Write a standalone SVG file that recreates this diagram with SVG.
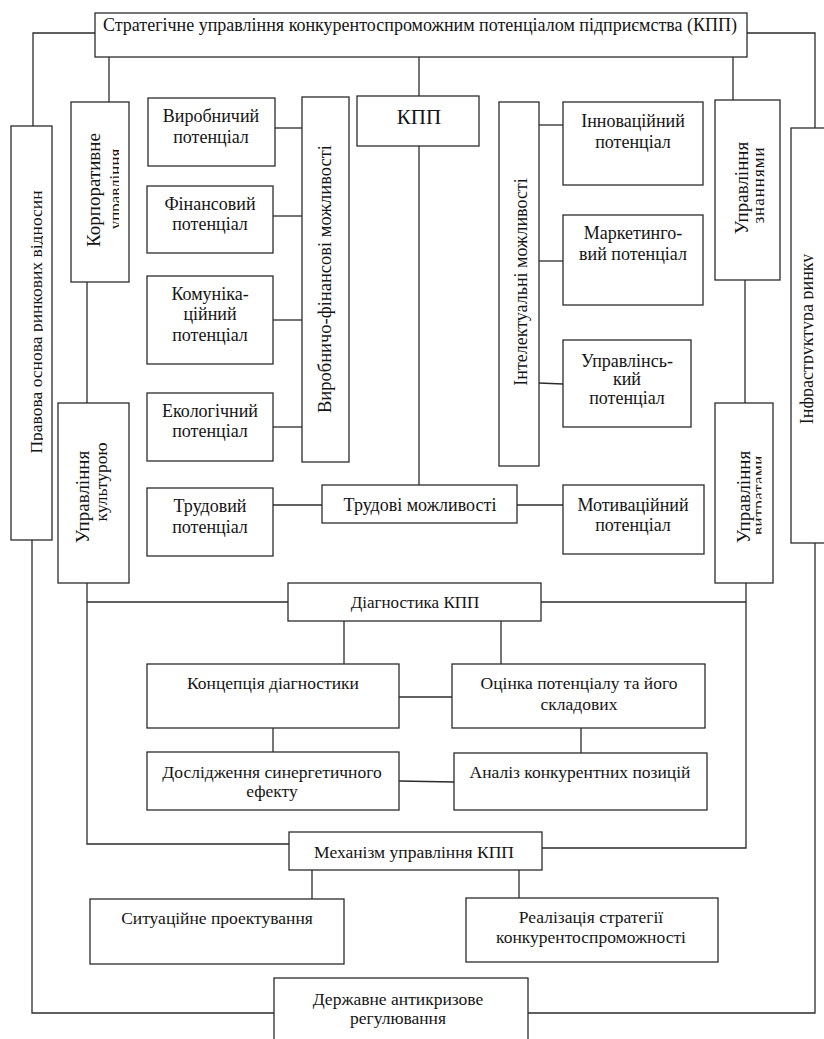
<svg xmlns="http://www.w3.org/2000/svg" width="824" height="1039" viewBox="0 0 824 1039" font-family="Liberation Serif, Times New Roman, serif">
<style>
.box{fill:#fff;stroke:#2b2b2b;stroke-width:1.3}
.t{font-family:'Liberation Serif','Times New Roman',serif;fill:#141414;text-anchor:middle}
.c{fill:none;stroke:#2b2b2b;stroke-width:1.3}
</style>
<defs>
<clipPath id="clipPrav" clipPathUnits="userSpaceOnUse"><rect x="0" y="120" width="43" height="430"/></clipPath>
<clipPath id="clipKorp" clipPathUnits="userSpaceOnUse"><rect x="60" y="100" width="59" height="190"/></clipPath>
<clipPath id="clipVytr" clipPathUnits="userSpaceOnUse"><rect x="700" y="400" width="61.5" height="190"/></clipPath>
<clipPath id="clipInfra" clipPathUnits="userSpaceOnUse"><rect x="780" y="120" width="33.5" height="430"/></clipPath>
</defs>

<g id="connectors">
<path class="c" d="M95,33 H33 V126"/>
<path class="c" d="M747,33 H815 V128"/>
<path class="c" d="M109,57 V102"/>
<path class="c" d="M419,57 V96"/>
<path class="c" d="M733,57 V100"/>
<path class="c" d="M32,540 V1013 H274"/>
<path class="c" d="M815,543 V1013 H528"/>
<path class="c" d="M87,282 V403"/>
<path class="c" d="M87,583 V844 H289"/>
<path class="c" d="M87,602 H288"/>
<path class="c" d="M745,280 V403"/>
<path class="c" d="M746,583 V848 H542"/>
<path class="c" d="M541,602 H746"/>
<path class="c" d="M275,128 H302"/>
<path class="c" d="M273,216 H302"/>
<path class="c" d="M273,320 H302"/>
<path class="c" d="M273,427 H302"/>
<path class="c" d="M419,146 V485"/>
<path class="c" d="M273,505 H322"/>
<path class="c" d="M517,505 H563"/>
<path class="c" d="M539,125 H563"/>
<path class="c" d="M539,261 H563"/>
<path class="c" d="M539,383 L563,384"/>
<path class="c" d="M344,621 V664"/>
<path class="c" d="M501,621 V664"/>
<path class="c" d="M399,697 H452"/>
<path class="c" d="M273,728 V752"/>
<path class="c" d="M581,728 V753"/>
<path class="c" d="M399,781 L454,782"/>
<path class="c" d="M312,870 V899"/>
<path class="c" d="M519,870 V898"/>
</g>

<g id="title">
<rect class="box" x="95" y="13" width="652" height="44"/>
<text class="t" x="420" y="31" font-size="18">Стратегічне управління конкурентоспроможним потенціалом підприємства (КПП)</text>
</g>

<g id="pravova">
<rect class="box" x="11" y="126" width="41" height="414"/>
<g clip-path="url(#clipPrav)"><text class="t" font-size="17.5" transform="translate(42,322) rotate(-90)">Правова основа ринкових відносин</text></g>
</g>

<g id="korp">
<rect class="box" x="71" y="102" width="58" height="180"/>
<text class="t" font-size="19" transform="translate(100,190) rotate(-90)">Корпоративне</text>
<g clip-path="url(#clipKorp)"><text class="t" font-size="17" transform="translate(121,189) rotate(-90)">управління</text></g>
</g>

<g id="culture">
<rect class="box" x="58" y="403" width="71" height="180"/>
<text class="t" font-size="19" transform="translate(89,497) rotate(-90)">Управління</text>
<text class="t" font-size="17.5" transform="translate(107,482) rotate(-90)">культурою</text>
</g>

<g id="virob">
<rect class="box" x="148" y="98" width="127" height="68"/>
<text class="t" x="211" y="122" font-size="18">Виробничий</text>
<text class="t" x="211" y="143" font-size="18">потенціал</text>
</g>

<g id="finans">
<rect class="box" x="147" y="186" width="126" height="67"/>
<text class="t" x="210" y="210" font-size="18">Фінансовий</text>
<text class="t" x="210" y="230" font-size="18">потенціал</text>
</g>

<g id="komun">
<rect class="box" x="147" y="276" width="126" height="88"/>
<text class="t" x="210" y="300" font-size="18">Комуніка-</text>
<text class="t" x="210" y="320" font-size="18">ційний</text>
<text class="t" x="210" y="341" font-size="18">потенціал</text>
</g>

<g id="ekolog">
<rect class="box" x="147" y="393" width="126" height="68"/>
<text class="t" x="210" y="417" font-size="18">Екологічний</text>
<text class="t" x="210" y="437" font-size="18">потенціал</text>
</g>

<g id="trud">
<rect class="box" x="147" y="488" width="126" height="68"/>
<text class="t" x="210" y="512" font-size="18">Трудовий</text>
<text class="t" x="210" y="533" font-size="18">потенціал</text>
</g>

<g id="vf">
<rect class="box" x="302" y="97" width="47" height="365"/>
<text class="t" font-size="18.5" transform="translate(331,279) rotate(-90)">Виробничо-фінансові можливості</text>
</g>

<g id="kpp">
<rect class="box" x="357" y="96" width="122" height="50"/>
<text class="t" x="419" y="124" font-size="21">КПП</text>
</g>

<g id="trudmozh">
<rect class="box" x="322" y="485" width="195" height="38"/>
<text class="t" x="420" y="511" font-size="18">Трудові можливості</text>
</g>

<g id="intel">
<rect class="box" x="499" y="102" width="40" height="364"/>
<text class="t" font-size="18" transform="translate(527,282) rotate(-90)">Інтелектуальні можливості</text>
</g>

<g id="innov">
<rect class="box" x="563" y="102" width="140" height="83"/>
<text class="t" x="633" y="127" font-size="18">Інноваційний</text>
<text class="t" x="633" y="148" font-size="18">потенціал</text>
</g>

<g id="market">
<rect class="box" x="563" y="215" width="140" height="90"/>
<text class="t" x="633" y="239" font-size="18">Маркетинго-</text>
<text class="t" x="633" y="260" font-size="18">вий потенціал</text>
</g>

<g id="upravl">
<rect class="box" x="563" y="340" width="128" height="87"/>
<text class="t" x="627" y="367" font-size="18">Управлінсь-</text>
<text class="t" x="627" y="385" font-size="18">кий</text>
<text class="t" x="627" y="404" font-size="18">потенціал</text>
</g>

<g id="motiv">
<rect class="box" x="563" y="485" width="141" height="69"/>
<text class="t" x="633" y="511" font-size="18">Мотиваційний</text>
<text class="t" x="633" y="531" font-size="18">потенціал</text>
</g>

<g id="znan">
<rect class="box" x="715" y="100" width="65" height="180"/>
<text class="t" font-size="19" transform="translate(748,188) rotate(-90)">Управління</text>
<text class="t" font-size="17" letter-spacing="1" transform="translate(764,185) rotate(-90)">знаннями</text>
</g>

<g id="vytr">
<rect class="box" x="715" y="403" width="58" height="180"/>
<text class="t" font-size="19" transform="translate(750,497) rotate(-90)">Управління</text>
<g clip-path="url(#clipVytr)"><text class="t" font-size="17" letter-spacing="0.5" transform="translate(764,495) rotate(-90)">витратами</text></g>
</g>

<g id="infra">
<rect class="box" x="791" y="128" width="60" height="415"/>
<g clip-path="url(#clipInfra)"><text class="t" font-size="18" transform="translate(813,339) rotate(-90)">Інфраструктура ринку</text></g>
</g>

<g id="diag">
<rect class="box" x="288" y="583" width="253" height="38"/>
<text class="t" x="415" y="608" font-size="17">Діагностика КПП</text>
</g>

<g id="konts">
<rect class="box" x="147" y="664" width="252" height="64"/>
<text class="t" x="273" y="689" font-size="17.5">Концепція діагностики</text>
</g>

<g id="ocinka">
<rect class="box" x="452" y="664" width="253" height="64"/>
<text class="t" x="579" y="689" font-size="17.5">Оцінка потенціалу та його</text>
<text class="t" x="579" y="710" font-size="17.5">складових</text>
</g>

<g id="dosl">
<rect class="box" x="147" y="752" width="252" height="58"/>
<text class="t" x="272" y="778" font-size="17.5">Дослідження синергетичного</text>
<text class="t" x="272" y="797" font-size="17.5">ефекту</text>
</g>

<g id="analiz">
<rect class="box" x="454" y="753" width="253" height="57"/>
<text class="t" x="580" y="778" font-size="17.5">Аналіз конкурентних позицій</text>
</g>

<g id="mech">
<rect class="box" x="289" y="832" width="253" height="38"/>
<text class="t" x="414" y="858" font-size="17.5">Механізм управління КПП</text>
</g>

<g id="sit">
<rect class="box" x="90" y="899" width="254" height="65"/>
<text class="t" x="217" y="924" font-size="17.5">Ситуаційне проектування</text>
</g>

<g id="real">
<rect class="box" x="466" y="898" width="252" height="64"/>
<text class="t" x="591" y="923" font-size="17.5">Реалізація стратегії</text>
<text class="t" x="591" y="943" font-size="17.5">конкурентоспроможності</text>
</g>

<g id="derzh">
<rect class="box" x="274" y="978" width="254" height="80"/>
<text class="t" x="398" y="1005" font-size="17.5">Державне антикризове</text>
<text class="t" x="398" y="1024" font-size="17.5">регулювання</text>
</g>
</svg>
